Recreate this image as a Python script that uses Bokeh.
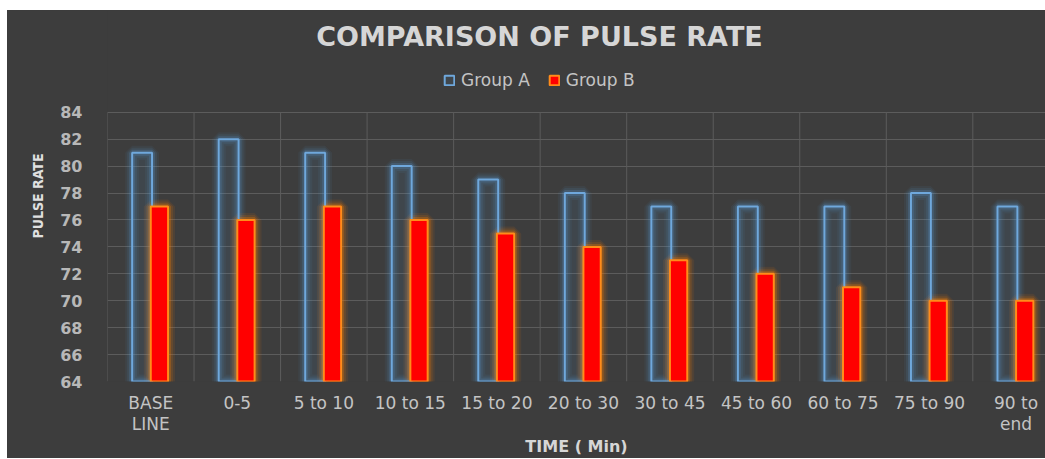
from bokeh.plotting import figure
from bokeh.models import (ColumnDataSource, Range1d, FixedTicker, Legend, LegendItem, Label)
from bokeh.embed import file_html
from bokeh.resources import INLINE
import numpy as np

categories = ["BASE\nLINE", "0-5", "5 to 10", "10 to 15", "15 to 20", "20 to 30",
              "30 to 45", "45 to 60", "60 to 75", "75 to 90", "90 to\nend"]
group_a = [81, 82, 81, 80, 79, 78, 77, 77, 77, 78, 77]
group_b = [77, 76, 77, 76, 75, 74, 73, 72, 71, 70, 70]
y_ticks = list(range(64, 85, 2))
y_min, y_max = 64, 84

x = np.arange(len(categories))
src = ColumnDataSource(dict(xa=x - 0.1, xb=x + 0.1, a=group_a, b=group_b))
bounds = np.arange(len(categories) + 1) - 0.5

BG = "#3d3d3d"
GRID = "#5c5c5c"
TXT = "#c4c4c4"

p = figure(width=1038, height=448, output_backend="svg", toolbar_location=None,
           x_range=Range1d(-0.5, 10.34), y_range=Range1d(y_min, 91.56),
           background_fill_color=BG, border_fill_color=BG, outline_line_color=None,
           min_border_left=100, min_border_right=0, min_border_bottom=76, min_border_top=0)
p.margin = (10, 0, 0, 7)
p.styles = {"background-color": BG}

# grid
p.ygrid.ticker = FixedTicker(ticks=y_ticks)
p.ygrid.grid_line_color = GRID
p.xgrid.visible = False
p.segment(x0=bounds, y0=y_min, x1=bounds, y1=y_max, line_color=GRID, line_width=1)

# glow layers
for w, al in [(14, 0.07), (10, 0.1), (6, 0.2)]:
    p.vbar(x="xa", top="a", bottom=y_min, width=0.23, source=src, fill_color=None,
           line_color="#5b9bd5", line_width=w, line_alpha=al)
    p.vbar(x="xb", top="b", bottom=y_min, width=0.2, source=src, fill_color=None,
           line_color="#ff7f00", line_width=w, line_alpha=al * 1.3)

ra = p.vbar(x="xa", top="a", bottom=y_min, width=0.23, source=src, fill_color="#5b9bd5",
            fill_alpha=0.1, line_color="#6fa8dc", line_width=2)
rb = p.vbar(x="xb", top="b", bottom=y_min, width=0.2, source=src, fill_color="#ff0000",
            line_color="#ff8c1a", line_width=2)

legend = Legend(items=[LegendItem(label="Group A", renderers=[ra]),
                       LegendItem(label="Group B", renderers=[rb])],
                orientation="horizontal", location=(336, 291),
                background_fill_alpha=0, border_line_color=None,
                label_text_font="DejaVu Sans", label_text_font_size="17px",
                label_text_color=TXT, glyph_width=12, glyph_height=12,
                spacing=18, padding=0, margin=0, label_standoff=6)
p.add_layout(legend, "center")

title = Label(x=432, y=345, x_units="screen", y_units="screen",
              text="COMPARISON OF PULSE RATE", text_align="center", text_baseline="middle",
              text_font="DejaVu Sans", text_font_size="27px", text_font_style="bold",
              text_color="#d6d6d6")
p.add_layout(title)

# axes
p.xaxis.ticker = FixedTicker(ticks=list(x))
p.xaxis.major_label_overrides = {int(i): c for i, c in zip(x, categories)}
p.xaxis.major_label_text_font = "DejaVu Sans"
p.xaxis.major_label_text_font_size = "17px"
p.xaxis.major_label_text_line_height = 1.05
p.xaxis.major_label_text_color = TXT
p.xaxis.major_label_standoff = 5
p.xaxis.axis_label = "TIME ( Min)"
p.xaxis.axis_label_text_font = "DejaVu Sans"
p.xaxis.axis_label_text_font_size = "16px"
p.xaxis.axis_label_text_font_style = "bold"
p.xaxis.axis_label_text_color = "#d6d6d6"
p.xaxis.axis_label_standoff = 0

p.yaxis.ticker = FixedTicker(ticks=y_ticks)
p.yaxis.major_label_text_font = "DejaVu Sans"
p.yaxis.major_label_text_font_size = "16px"
p.yaxis.major_label_text_font_style = "bold"
p.yaxis.major_label_text_color = "#b8b8b8"
p.yaxis.major_label_standoff = 19
p.yaxis.axis_label = "PULSE RATE"
p.yaxis.axis_label_text_font = "DejaVu Sans Condensed"
p.yaxis.axis_label_text_font_size = "14px"
p.yaxis.axis_label_text_font_style = "bold"
p.yaxis.axis_label_text_color = "#e0e0e0"
p.yaxis.axis_label_standoff = 11
p.yaxis.bounds = (y_min, y_max)

for ax in (p.xaxis, p.yaxis):
    ax.axis_line_color = None
    ax.major_tick_line_color = None
    ax.minor_tick_line_color = None

open("out.html", "w").write(file_html(p, INLINE))
